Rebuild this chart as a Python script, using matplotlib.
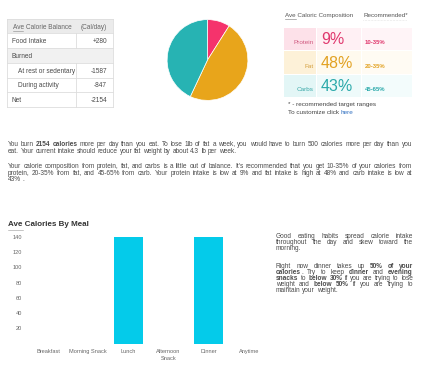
import math
import matplotlib
matplotlib.use("Agg")
import matplotlib.pyplot as plt
from matplotlib.patches import Rectangle
from matplotlib.font_manager import FontProperties
from matplotlib.backends.backend_agg import get_hinting_flag

plt.rcParams['font.family'] = ['Liberation Sans', 'DejaVu Sans']

# ---------------- data ----------------
balance_header = ["Ave Calorie Balance", "(Cal/day)"]
balance_labels = ["Food Intake", "Burned", "At rest or sedentary", "During activity", "Net"]
balance_values = ["+280", "", "-1587", "-847", "-2154"]
balance_indent = [False, False, True, True, False]

comp_names = ["Protein", "Fat", "Carbs"]
comp_pct = [9, 48, 43]
comp_rec = ["10-35%", "20-35%", "45-65%"]

meals = ["Breakfast", "Morning Snack", "Lunch", "Afternoon\nSnack", "Dinner", "Anytime"]
meal_cals = [0, 0, 140, 0, 140, 0]
meal_yticks = [20, 40, 60, 80, 100, 120, 140]

para1 = [
    [("You burn ", False), ("2154 calories", True), (" more per day than you eat. To lose 1lb of fat a week, you would have to burn 500 calories more per day than you", False)],
    [("eat. Your current intake should reduce your fat weight by about 4.3 lb per week.", False)],
]
para2 = [
    [("Your calorie composition from protein, fat, and carbs is a little out of balance. It's recommended that you get 10-35% of your calories from", False)],
    [("protein, 20-35% from fat, and 45-65% from carb. Your protein intake is low at 9% and fat intake is high at 48% and carb intake is low at", False)],
    [("43% .", False)],
]
side1 = [
    [("Good eating habits spread calorie intake", False)],
    [("throughout the day and skew toward the", False)],
    [("morning.", False)],
]
side2 = [
    [("Right now dinner takes up ", False), ("50% of your", True)],
    [("calories", True), (". Try to keep ", False), ("dinner", True), (" and ", False), ("evening", True)],
    [("snacks", True), (" to ", False), ("below 30%", True), (" if you are trying to lose", False)],
    [("weight and ", False), ("below 50%", True), (" if you are trying to", False)],
    [("maintain your weight.", False)],
]

# colours
pie_colors = ["#f5336c", "#e8a51b", "#27b3b3"]
text_colors = ["#e0386e", "#e2a223", "#2aa9aa"]
label_colors = ["#d05a80", "#d4a040", "#3aa8a8"]
cell_label_bg = ["#fde1e9", "#fdf1d8", "#e3f6f6"]
cell_val_bg = ["#fff0f4", "#fffaee", "#eefafa"]
cell_rec_bg = ["#fff4f7", "#fffbf3", "#f3fcfc"]
bar_color = "#04cbea"
txt = "#4a4a4a"

W, H = 423, 365
fig = plt.figure(figsize=(W / 100, H / 100), dpi=100)
fig.patch.set_facecolor("white")
lay = fig.add_axes([0, 0, 1, 1])
lay.set_xlim(0, W)
lay.set_ylim(H, 0)
lay.axis("off")
renderer = fig.canvas.get_renderer()

_wcache = {}


def width_of(s, size, bold):
    key = (s, size, bold)
    if key not in _wcache:
        t = lay.text(0, 0, s, fontsize=size, fontweight="bold" if bold else "normal")
        _wcache[key] = t.get_window_extent(renderer).width
        t.remove()
    return _wcache[key]


def baseline_shift(s, size, bold):
    """Offset that makes the Agg raster land every word on the same pixel baseline."""
    try:
        prop = FontProperties(family=plt.rcParams['font.family'], size=size,
                              weight="bold" if bold else "normal")
        font = renderer._prepare_font(prop)
        font.set_text(s, 0, flags=get_hinting_flag())
        w26, h26 = font.get_width_height()
        desc26 = font.get_descent()
        d = desc26 / 64.0
        a = (h26 - desc26) / 64.0
        return math.floor(h26 / 64) - math.floor(a) - d
    except Exception:
        return 0.0


def tokenize(segs):
    tokens = []
    prev_end_space = True
    for s, b in segs:
        start_space = s.startswith(" ")
        first = True
        for p in s.split(" "):
            if p == "":
                first = False
                continue
            if first and not start_space and tokens and not prev_end_space:
                tokens[-1].append((p, b))
            else:
                tokens.append([(p, b)])
            first = False
        prev_end_space = s.endswith(" ")
    return tokens


def space_w(size):
    return width_of("a a", size, False) - width_of("aa", size, False)


def natural_width(segs, size):
    tokens = tokenize(segs)
    return sum(sum(width_of(p, size, b) for p, b in tok) for tok in tokens) + space_w(size) * (len(tokens) - 1)


def put_word(x, base, p, size, b, color):
    y = base + baseline_shift(p, size, b)
    lay.text(x, y, p, fontsize=size, fontweight="bold" if b else "normal",
             color=color, va="baseline", ha="left")


def rich_line(segs, x0, x1, y, size, justify, color=txt):
    base = round(y)
    tokens = tokenize(segs)
    widths = [sum(width_of(p, size, b) for p, b in tok) for tok in tokens]
    sp = space_w(size)
    if justify and len(tokens) > 1:
        gap = (x1 - x0 - sum(widths)) / (len(tokens) - 1)
    else:
        gap = sp
    x = x0
    for tok, w in zip(tokens, widths):
        xx = x
        for p, b in tok:
            put_word(xx, base, p, size, b, color)
            xx += width_of(p, size, b)
        x += w + gap


def paragraph(lines, x0, x1, y0, dy, size):
    for i, segs in enumerate(lines):
        rich_line(segs, x0, x1, y0 + i * dy, size, justify=(i < len(lines) - 1))


# ---------------- left balance table ----------------
tx0, tx1, tdiv = 7, 113, 76
row_y = [19, 33, 48, 63, 78, 92, 107]
lay.add_patch(Rectangle((tx0, row_y[0]), tx1 - tx0, row_y[1] - row_y[0], fc="#ebebeb", ec="none"))
lay.add_patch(Rectangle((tx0, row_y[2]), tx1 - tx0, row_y[3] - row_y[2], fc="#f1f1f1", ec="none"))
for yy in row_y:
    lay.plot([tx0, tx1], [yy, yy], color="#dddddd", lw=0.6)
lay.plot([tx0, tx0], [row_y[0], row_y[-1]], color="#dddddd", lw=0.6)
lay.plot([tx1, tx1], [row_y[0], row_y[-1]], color="#dddddd", lw=0.6)
fs_t = 4.7
lay.text(13, 29, balance_header[0], fontsize=fs_t, color="#666666", va="baseline")
lay.text(107, 29, balance_header[1], fontsize=fs_t, color="#666666", va="baseline", ha="right")
lay.plot([13, 23], [30.5, 30.5], color="#888888", lw=0.4)
for i, (lab, val, ind) in enumerate(zip(balance_labels, balance_values, balance_indent)):
    ytop, ybot = row_y[i + 1], row_y[i + 2]
    yb = ybot - 5
    lay.text(18 if ind else 12, yb, lab, fontsize=fs_t, color=txt, va="baseline")
    if val:
        lay.text(107, yb, val, fontsize=fs_t, color=txt, va="baseline", ha="right")
        lay.plot([tdiv, tdiv], [ytop, ybot], color="#dddddd", lw=0.6)

# ---------------- pie ----------------
pax = fig.add_axes([157 / W, 1 - 111 / H, 101 / W, 102 / H])
pax.pie(comp_pct, colors=pie_colors, startangle=90, counterclock=False,
        wedgeprops=dict(edgecolor="white", linewidth=0.5))
pax.set_aspect("equal")

# ---------------- composition table ----------------
lay.text(285, 17, "Ave Caloric Composition", fontsize=4.5, color="#555555", va="baseline")
lay.plot([285, 296], [19, 19], color="#777777", lw=0.4)
lay.text(363, 17, "Recommended*", fontsize=4.5, color="#555555", va="baseline")
lay.plot([363, 407], [19.5, 19.5], color="#cccccc", lw=0.4, ls=":")
rows = [(28, 50), (51, 74), (75, 97)]
for i, (y0, y1) in enumerate(rows):
    lay.add_patch(Rectangle((284, y0), 32, y1 - y0, fc=cell_label_bg[i], ec="none"))
    lay.add_patch(Rectangle((317, y0), 44, y1 - y0, fc=cell_val_bg[i], ec="none"))
    lay.add_patch(Rectangle((362, y0), 50, y1 - y0, fc=cell_rec_bg[i], ec="none"))
    lay.text(314, y1 - 6, comp_names[i], fontsize=4.6, color=label_colors[i], va="baseline", ha="right")
    lay.text(321, y1 - 6, f"{comp_pct[i]}%", fontsize=11.5, color=text_colors[i], va="baseline", ha="left")
    lay.text(365, y1 - 6, comp_rec[i], fontsize=4.3, color=text_colors[i], va="baseline",
             ha="left", fontweight="bold")
lay.text(288, 106, "* - recommended target ranges", fontsize=4.6, color="#444444", va="baseline")
lay.text(288, 114, "To customize click ", fontsize=4.6, color="#444444", va="baseline")
lay.text(288 + width_of("To customize click ", 4.6, False), 114, "here", fontsize=4.6,
         color="#2f6fc0", va="baseline")

# ---------------- paragraphs ----------------
fs_p = 4.2 * 398 / natural_width(para1[0], 4.2)
paragraph(para1, 8, 412, 146, 6.6, fs_p)
paragraph(para2, 8, 412, 168, 6.6, fs_p)

side_w = 413 - 276
widest = max(natural_width(l, fs_p) for l in side1[:-1] + side2[:-1])
fs_s = min(fs_p, fs_p * (side_w - 4) / widest)
paragraph(side1, 276, 413, 238, 5.9, fs_s)
paragraph(side2, 276, 413, 267.6, 6.0, fs_s)

# ---------------- bar chart ----------------
lay.text(8, 226, "Ave Calories By Meal", fontsize=5.8, fontweight="bold", color="#333333", va="baseline")
lay.plot([8, 23], [229.5, 229.5], color="#999999", lw=0.4)

bax_left, bax_right = 28, 269
y0px = 343.5
ppu = (343.5 - 236.8) / 140
ymax = 150
bax = fig.add_axes([bax_left / W, 1 - y0px / H, (bax_right - bax_left) / W, ymax * ppu / H])
xs = list(range(len(meals)))
bax.bar(xs, meal_cals, width=0.72, color=bar_color)
bax.set_xlim(-0.5, len(meals) - 0.5)
bax.set_ylim(0, ymax)
bax.set_yticks(meal_yticks)
bax.set_yticklabels([str(v) for v in meal_yticks], fontsize=4.1, color="#666666")
bax.set_xticks(xs)
bax.set_xticklabels(meals, fontsize=4.1, color="#666666", linespacing=1.4)
bax.tick_params(length=0, pad=4)
for s in bax.spines.values():
    s.set_visible(False)
bax.patch.set_alpha(0)

fig.savefig("out.png", dpi=100, facecolor="white")
